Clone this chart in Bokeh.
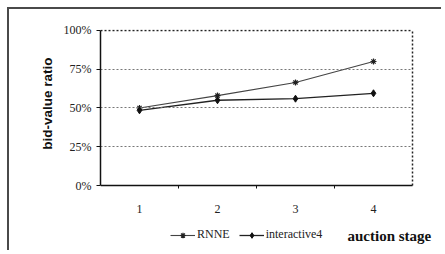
from bokeh.plotting import figure
from bokeh.models import (FixedTicker, PrintfTickFormatter, Legend, LegendItem,
                          Label, Range1d, Title, LinearAxis)
from bokeh.embed import file_html
from bokeh.resources import INLINE

stages = [1, 2, 3, 4]
rnne = [50, 58, 66.5, 80]
interactive4 = [48.5, 55, 56, 59.5]
y_ticks = [0, 25, 50, 75, 100]
grid_levels = [25, 50, 75]

# frame extended below 0% and right of stage 4.5 so the legend row lies inside it
p = figure(width=434, height=243, output_backend="svg", toolbar_location=None,
           x_range=Range1d(0.5, 4.859), y_range=Range1d(-40.645, 100.645),
           min_border_left=91, min_border_right=3, min_border_top=20,
           min_border_bottom=4)
p.styles = {"margin-top": "7px", "margin-left": "7px",
            "border-top": "2px solid #4a4a4a", "border-left": "2px solid #4a4a4a"}

p.background_fill_color = "white"
p.border_fill_color = "white"
p.outline_line_color = None
p.xgrid.grid_line_color = None
p.ygrid.grid_line_color = None

# y axis
yax = p.yaxis[0]
yax.bounds = (0, 100)
yax.ticker = FixedTicker(ticks=y_ticks)
yax.formatter = PrintfTickFormatter(format="%d%%")
yax.axis_line_color = "#111111"
yax.axis_line_width = 1.5
yax.major_tick_out = 4
yax.major_tick_in = 0
yax.minor_tick_line_color = None
yax.major_tick_line_color = "#111111"
yax.major_label_standoff = 5
yax.major_label_text_font = "Liberation Serif"
yax.major_label_text_font_size = "12px"
yax.major_label_text_color = "#222222"

p.add_layout(Title(text="bid-value ratio", align="right", offset=28, standoff=11,
                   text_font="Liberation Sans", text_font_style="bold",
                   text_font_size="13.5px", text_color="#111111"), "left")

# x axis at 0%
xax = p.xaxis[0]
xax.fixed_location = 0
xax.bounds = (0.5, 4.5)
xax.ticker = FixedTicker(ticks=stages, minor_ticks=[1.5, 2.5, 3.5])
xax.axis_line_color = "#111111"
xax.axis_line_width = 1.5
xax.major_tick_line_color = None
xax.major_tick_out = 0
xax.major_tick_in = 0
xax.minor_tick_out = 3
xax.minor_tick_in = 0
xax.minor_tick_line_color = "#111111"
xax.major_label_standoff = 16
xax.major_label_text_font = "Liberation Serif"
xax.major_label_text_font_size = "12px"
xax.major_label_text_color = "#222222"


def rule(loc, bounds, color, width, side):
    ax = LinearAxis(fixed_location=loc, bounds=bounds, ticker=FixedTicker(ticks=[]),
                    axis_line_color=color, axis_line_dash="2 2",
                    axis_line_width=width, major_tick_line_color=None,
                    minor_tick_line_color=None, major_label_text_alpha=0)
    p.add_layout(ax, side)


# dotted gridlines and the dotted top / right frame
for lv in grid_levels:
    rule(lv, (0.5, 4.5), "#777777", 1, "above")
rule(100, (0.5, 4.5), "#222222", 1.5, "above")
rule(4.5, (0, 100), "#222222", 1.5, "right")

# series
r1l = p.line(stages, rnne, line_color="#444444", line_width=1.1)
r1m = p.scatter(stages, rnne, marker="asterisk", size=6, line_color="#222222",
                line_width=1.2)
r2l = p.line(stages, interactive4, line_color="#222222", line_width=1.3)
r2m = p.scatter(stages, interactive4, marker="diamond", size=7,
                fill_color="#111111", line_color="#111111")

legend = Legend(items=[LegendItem(label="RNNE", renderers=[r1l, r1m]),
                       LegendItem(label="interactive4", renderers=[r2l, r2m])],
                location=(70, 6), orientation="horizontal")
legend.border_line_color = None
legend.background_fill_alpha = 0
legend.padding = 0
legend.margin = 0
legend.spacing = 9
legend.glyph_width = 25
legend.glyph_height = 14
legend.label_standoff = 2
legend.label_text_font = "Liberation Serif"
legend.label_text_font_size = "12px"
legend.label_text_color = "#222222"
p.add_layout(legend, "center")

p.add_layout(Label(x=247, y=13, x_units="screen", y_units="screen",
                   text="auction stage", text_font="Liberation Serif",
                   text_font_style="bold", text_font_size="15px",
                   text_baseline="middle", text_color="#111111"))

open("out.html", "w").write(file_html(p, INLINE))
